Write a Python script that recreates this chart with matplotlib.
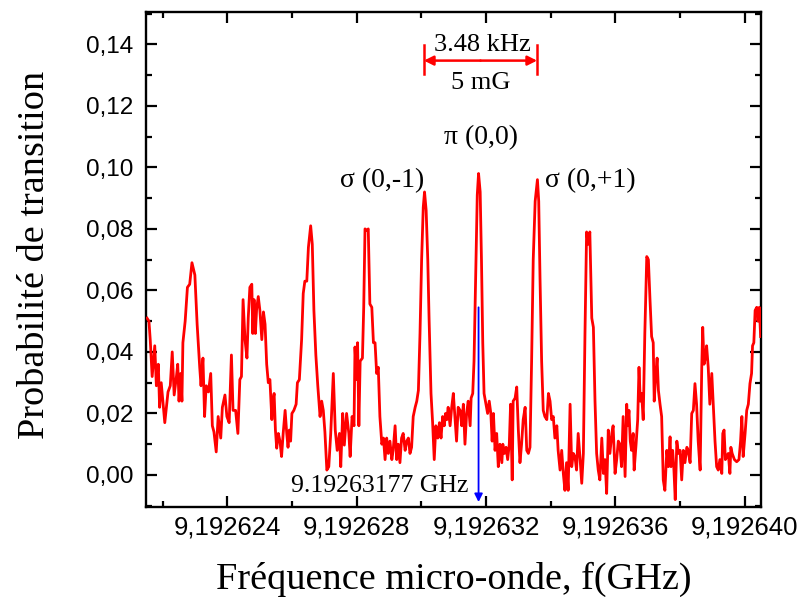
import matplotlib
matplotlib.use("Agg")
import matplotlib.pyplot as plt
from matplotlib.ticker import MultipleLocator, FuncFormatter

# Frequency offsets (kHz) above 9.192620 GHz and transition probability
BASE_GHZ = 9.192620
freq_khz = [
    1.52, 1.58, 1.62, 1.68, 1.76, 1.81, 1.87, 1.91, 1.96, 2.07, 2.17, 2.24, 2.30, 2.36, 2.43, 2.47,
    2.51, 2.56, 2.60, 2.63, 2.70, 2.77, 2.84, 2.91, 3.00, 3.07, 3.15, 3.19, 3.25, 3.30, 3.35, 3.42,
    3.49, 3.54, 3.59, 3.66, 3.72, 3.80, 3.85, 3.93, 3.99, 4.06, 4.13, 4.18, 4.26, 4.33, 4.39, 4.44,
    4.49, 4.55, 4.61, 4.65,
    4.70, 4.76, 4.79, 4.83, 4.87, 4.91, 4.96, 5.01, 5.07, 5.12, 5.17, 5.22, 5.27, 5.32, 5.38, 5.41,
    5.45, 5.49, 5.53, 5.58, 5.63, 5.68, 5.73, 5.79, 5.84, 5.88, 5.92, 5.96, 6.00, 6.06, 6.13, 6.17,
    6.23, 6.30, 6.35, 6.40, 6.46, 6.51, 6.58, 6.63, 6.68, 6.74, 6.80, 6.87, 6.92, 6.97, 7.02, 7.08,
    7.14, 7.20, 7.28, 7.34, 7.40, 7.47, 7.51, 7.57, 7.62, 7.69, 7.76, 7.80, 7.86, 7.92,
    7.95, 8.00, 8.03, 8.07, 8.11, 8.18, 8.22, 8.26, 8.32, 8.36, 8.41, 8.47, 8.52, 8.57, 8.62, 8.67,
    8.72, 8.78, 8.83, 8.88, 8.93, 8.98, 9.03, 9.09, 9.13, 9.19, 9.24, 9.29, 9.34, 9.39, 9.44, 9.50,
    9.55, 9.60, 9.65, 9.70, 9.75, 9.81, 9.86, 9.91, 9.96, 10.01, 10.06, 10.10, 10.15, 10.20, 10.24,
    10.30, 10.35, 10.40, 10.45, 10.51, 10.56, 10.61, 10.66, 10.71, 10.75, 10.79, 10.83, 10.89, 10.94,
    10.99, 11.04, 11.09, 11.14,
    11.20, 11.25, 11.30, 11.35, 11.40, 11.45, 11.51, 11.54, 11.59, 11.63, 11.68, 11.73, 11.77, 11.82,
    11.86, 11.90, 11.94, 12.00, 12.05, 12.10, 12.15, 12.19, 12.23, 12.28, 12.33, 12.38, 12.43, 12.49,
    12.52, 12.57, 12.62, 12.67, 12.72, 12.76, 12.81, 12.84, 12.90, 12.95, 13.00, 13.05, 13.10, 13.15,
    13.21, 13.26, 13.31, 13.36, 13.41, 13.46, 13.52, 13.59, 13.63, 13.67, 13.72, 13.77, 13.82, 13.88,
    13.93, 13.98, 14.03, 14.08, 14.13, 14.19, 14.23, 14.29, 14.34, 14.39,
    14.44, 14.49, 14.54, 14.60, 14.65, 14.70, 14.75, 14.80, 14.85, 14.91, 14.96, 15.01, 15.06, 15.11,
    15.16, 15.21, 15.27, 15.32, 15.37, 15.42, 15.47, 15.52, 15.58, 15.63, 15.68, 15.73, 15.78, 15.83,
    15.89, 15.93, 15.99, 16.04, 16.09, 16.14, 16.19, 16.24, 16.30, 16.35, 16.38, 16.42, 16.46, 16.50,
    16.55, 16.58, 16.64, 16.69, 16.73, 16.77, 16.81, 16.86, 16.91, 16.97, 17.02, 17.07, 17.12, 17.17,
    17.20, 17.25, 17.29, 17.33, 17.38, 17.43, 17.48, 17.53, 17.59, 17.64,
    17.69, 17.72, 17.77, 17.81, 17.85, 17.90, 17.95, 18.00, 18.05, 18.10, 18.15, 18.21, 18.25, 18.31,
    18.36, 18.41, 18.46, 18.51, 18.56, 18.62, 18.67, 18.70, 18.74, 18.78, 18.82, 18.87, 18.92, 18.98,
    19.03, 19.08, 19.13, 19.18, 19.23, 19.29, 19.32, 19.36, 19.40, 19.44, 19.49, 19.54, 19.57, 19.61,
    19.68, 19.75, 19.82, 19.87, 19.91, 19.95, 20.01, 20.06, 20.11, 20.16, 20.21, 20.24, 20.28, 20.32,
    20.37, 20.41, 20.45, 20.49,
]
probability = [
    0.051, 0.050, 0.044, 0.032, 0.042, 0.029, 0.036, 0.022, 0.030, 0.017, 0.027, 0.029, 0.040, 0.026, 0.032, 0.036,
    0.024, 0.033, 0.024, 0.043, 0.050, 0.061, 0.062, 0.069, 0.065, 0.049, 0.035, 0.029, 0.038, 0.019, 0.029, 0.027,
    0.033, 0.016, 0.014, 0.0075, 0.019, 0.012, 0.022, 0.026, 0.019, 0.017, 0.039, 0.021, 0.021, 0.0135, 0.031, 0.032,
    0.057, 0.044, 0.038, 0.051,
    0.061, 0.062, 0.046, 0.057, 0.046, 0.054, 0.058, 0.0535, 0.044, 0.053, 0.049, 0.036, 0.030, 0.031, 0.018, 0.024,
    0.0265, 0.0146, 0.0087, 0.0135, 0.011, 0.006, 0.0135, 0.021, 0.0135, 0.009, 0.0146, 0.011, 0.020, 0.021, 0.023, 0.030,
    0.031, 0.044, 0.059, 0.063, 0.063, 0.074, 0.081, 0.075, 0.0535, 0.039, 0.029, 0.019, 0.024, 0.021, 0.014, 0.0016,
    0.0027, 0.0135, 0.033, 0.0146, 0.008, 0.0135, 0.0027, 0.020, 0.0097, 0.020, 0.0135, 0.006, 0.019, 0.016,
    0.0416, 0.031, 0.043, 0.016, 0.037, 0.038, 0.0545, 0.080, 0.0795, 0.080, 0.0556, 0.0545, 0.043, 0.043, 0.033, 0.035,
    0.019, 0.010, 0.012, 0.005, 0.012, 0.007, 0.011, 0.005, 0.008, 0.016, 0.005, 0.010, 0.004, 0.012, 0.0135, 0.008,
    0.011, 0.012, 0.007, 0.009, 0.019, 0.022, 0.024, 0.0275, 0.046, 0.070, 0.087, 0.092, 0.086, 0.070, 0.051,
    0.0265, 0.017, 0.005, 0.016, 0.012, 0.017, 0.012, 0.019, 0.016, 0.020, 0.018, 0.022, 0.016, 0.022,
    0.0265, 0.019, 0.011, 0.022,
    0.021, 0.016, 0.023, 0.010, 0.020, 0.024, 0.016, 0.025, 0.0265, 0.037, 0.064, 0.091, 0.098, 0.092,
    0.070, 0.043, 0.0265, 0.023, 0.020, 0.024, 0.020, 0.011, 0.020, 0.008, 0.0135, 0.0027, 0.010, 0.004,
    0.010, 0.007, 0.009, 0.005, 0.010, 0.023, -0.0016, 0.024, 0.025, 0.0286, 0.0146, 0.004, 0.010, 0.018,
    0.022, 0.008, 0.007, 0.009, 0.037, 0.070, 0.089, 0.096, 0.089, 0.064, 0.037, 0.021, 0.019, 0.018,
    0.0265, 0.024, 0.018, 0.019, 0.012, 0.016, 0.008, 0.0016, 0.008, 0.0005,
    -0.005, 0.004, -0.005, 0.023, 0.0027, 0.007, 0.006, 0.0016, 0.0135, 0.005, -0.0027, 0.007, 0.046, 0.079,
    0.075, 0.079, 0.051, 0.048, 0.024, 0.007, 0.0016, -0.0016, 0.012, 0.0005, 0.005, -0.006, 0.0146, 0.007,
    0.0135, 0.016, 0.0005, 0.005, 0.011, 0.010, 0.0027, 0.019, -0.0005, 0.023, 0.016, 0.021, 0.011, 0.008,
    0.0135, 0.0016, 0.010, 0.018, 0.035, 0.024, 0.0265, 0.018, 0.046, 0.071, 0.070, 0.057, 0.045, 0.043,
    0.024, 0.033, 0.038, 0.0275, 0.023, 0.019, -0.0016, -0.005, 0.008, 0.0027,
    0.0124, 0.0027, 0.008, 0.0016, -0.008, 0.011, 0.007, 0.008, -0.0016, 0.008, 0.004, 0.009, 0.008, 0.004,
    0.020, 0.021, 0.0297, 0.023, 0.011, 0.0016, 0.035, 0.048, 0.036, 0.038, 0.042, 0.035, 0.023, 0.033,
    0.022, 0.011, 0.0027, 0.0016, 0.005, 0.0005, 0.0135, 0.0146, 0.005, 0.006, 0.007, 0.0005, 0.009, 0.007,
    0.005, 0.0043, 0.005, 0.011, 0.019, 0.006, 0.0135, 0.021, 0.023, 0.0297, 0.033, 0.042, 0.043, 0.0535,
    0.0545, 0.050, 0.0545, 0.045,
]

# Annotations
center_freq_ghz = 9.19263177
split_label = "3.48 kHz"
field_label = "5 mG"
sigma_left_khz, sigma_right_khz = 10.08, 13.58

freq_ghz = [BASE_GHZ + f * 1e-6 for f in freq_khz]
X = lambda k: BASE_GHZ + k * 1e-6

serif = ["Liberation Serif", "DejaVu Serif"]
sans = ["Liberation Sans", "DejaVu Sans"]

fig = plt.figure(figsize=(8.01, 5.97), dpi=100)
ax = fig.add_axes([0.1823, 0.1508, 0.7677, 0.8291])

ax.plot(freq_ghz, probability, color="#ff0000", lw=2.0, zorder=3)

ax.set_xlim(X(1.49), X(20.5))
ax.set_ylim(-0.0104, 0.1505)

ax.xaxis.set_major_locator(MultipleLocator(4e-6))
ax.xaxis.set_minor_locator(MultipleLocator(2e-6))
ax.yaxis.set_major_locator(MultipleLocator(0.02))
ax.yaxis.set_minor_locator(MultipleLocator(0.01))
ax.xaxis.set_major_formatter(FuncFormatter(lambda v, p: f"{v:.6f}".replace(".", ",")))
ax.yaxis.set_major_formatter(FuncFormatter(lambda v, p: f"{v:.2f}".replace(".", ",")))

ax.tick_params(which="both", direction="in", top=True, right=True, width=1.6)
ax.tick_params(which="major", length=8, pad=6)
ax.tick_params(which="minor", length=4)
ax.tick_params(axis="x", which="major", labelsize=18.5, pad=6)
ax.tick_params(axis="y", which="major", labelsize=17.5, pad=9)
for lab in ax.get_xticklabels() + ax.get_yticklabels():
    lab.set_family(sans)
for s in ax.spines.values():
    s.set_linewidth(1.7)

ax.set_xlabel("Fréquence micro-onde, f(GHz)", fontsize=27.5, family=serif, labelpad=16)
ax.set_ylabel("Probabilité de transition", fontsize=27.5, family=serif)
ax.yaxis.set_label_coords(-0.153, 0.51)

# Peak labels
ax.text(X(11.86), 0.1076, "π (0,0)", fontsize=20, family=serif, ha="center", va="baseline")
ax.text(X(8.80), 0.0936, "σ (0,-1)", fontsize=20, family=serif, ha="center", va="baseline")
ax.text(X(15.21), 0.0936, "σ (0,+1)", fontsize=20, family=serif, ha="center", va="baseline")

# Splitting arrow
ax.text(X(11.88), 0.1377, split_label, fontsize=19, family=serif, ha="center", va="baseline")
ax.text(X(11.84), 0.1254, field_label, fontsize=19, family=serif, ha="center", va="baseline")
y_arr = 0.1347
ax.annotate("", xy=(X(sigma_left_khz), y_arr), xytext=(X(11.83), y_arr),
            arrowprops=dict(arrowstyle="-|>", color="#ff0000", lw=1.8, mutation_scale=14, shrinkA=0, shrinkB=0))
ax.annotate("", xy=(X(sigma_right_khz), y_arr), xytext=(X(11.83), y_arr),
            arrowprops=dict(arrowstyle="-|>", color="#ff0000", lw=1.8, mutation_scale=14, shrinkA=0, shrinkB=0))
ax.plot([X(sigma_left_khz)] * 2, [0.1305, 0.1398], color="#ff0000", lw=1.8)
ax.plot([X(sigma_right_khz)] * 2, [0.1305, 0.1398], color="#ff0000", lw=1.8)

# Center frequency marker
ax.annotate("", xy=(center_freq_ghz, -0.0088), xytext=(center_freq_ghz, 0.0545),
            arrowprops=dict(arrowstyle="-|>", color="#0000ff", lw=1.3, mutation_scale=12, shrinkA=0, shrinkB=0),
            zorder=4)
ax.text(X(11.44), -0.0054, "9.19263177 GHz", fontsize=18.5, family=serif, ha="right", va="baseline")

fig.savefig("out.png", dpi=100)
